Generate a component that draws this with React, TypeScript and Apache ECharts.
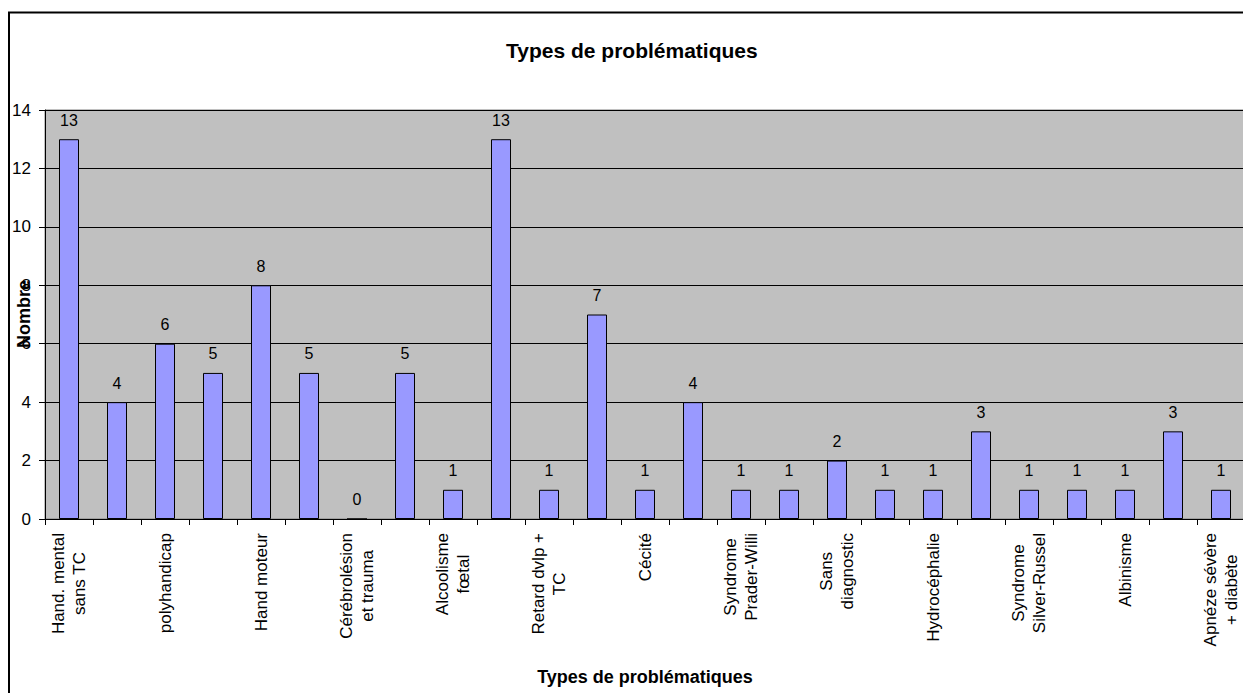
import React, { useEffect, useRef } from "react";
import * as echarts from "echarts";

const categories: string[] = [
  "Hand. mental\nsans TC", "", "polyhandicap", "", "Hand moteur", "",
  "Cérébrolésion\net trauma", "", "Alcoolisme\nfœtal", "", "Retard dvlp +\nTC", "",
  "Cécité", "", "Syndrome\nPrader-Willi", "", "Sans\ndiagnostic", "",
  "Hydrocéphalie", "", "Syndrome\nSilver-Russel", "", "Albinisme", "",
  "Apnéze sévère\n+ diabète",
];
const values: number[] = [13, 4, 6, 5, 8, 5, 0, 5, 1, 13, 1, 7, 1, 4, 1, 1, 2, 1, 1, 3, 1, 1, 1, 3, 1];
const titleText = "Types de problématiques";
const xAxisName = "Types de problématiques";
const yAxisName = "Nombre";

const FONT = "'Liberation Sans', Arial, sans-serif";

export default function App() {
  const ref = useRef<HTMLDivElement>(null);
  useEffect(() => {
    if (!ref.current) return;
    const chart = echarts.init(ref.current, undefined, { renderer: "svg" });
    chart.setOption({
      animation: false,
      backgroundColor: "#ffffff",
      textStyle: { fontFamily: FONT, color: "#000" },
      title: {
        text: titleText,
        left: 501,
        top: 35,
        textStyle: { fontFamily: FONT, fontWeight: "bold", fontSize: 21, color: "#000" },
      },
      graphic: [
        {
          type: "rect",
          shape: { x: 9, y: 12.5, width: 1300, height: 720 },
          style: { fill: "none", stroke: "#000", lineWidth: 2 },
          silent: true,
          z: 100,
        },
        {
          type: "text",
          x: 24,
          y: 314,
          rotation: Math.PI / 2,
          style: {
            text: yAxisName,
            fontFamily: FONT,
            fontWeight: "bold",
            fontSize: 18,
            fill: "#000",
            align: "center",
            verticalAlign: "middle",
          },
          z: 50,
        },
      ],
      grid: {
        left: 45,
        top: 110,
        width: 1200,
        height: 409,
        show: true,
        backgroundColor: "#C0C0C0",
        borderColor: "#808080",
        borderWidth: 1,
        containLabel: false,
        outerBoundsMode: "none",
      },
      xAxis: {
        type: "category",
        data: categories,
        name: xAxisName,
        nameLocation: "middle",
        nameGap: 149,
        nameTextStyle: { fontFamily: FONT, fontWeight: "bold", fontSize: 18, color: "#000" },
        axisLine: { show: true, lineStyle: { color: "#000", width: 1 } },
        axisTick: { show: true, interval: 0, length: 6, lineStyle: { color: "#000" } },
        axisLabel: {
          interval: 0,
          rotate: 90,
          margin: 14,
          color: "#000",
          fontFamily: FONT,
          fontSize: 17,
          formatter: (v: string) =>
            v
              .split("\n")
              .map((l) => `{c|${l}}`)
              .join("\n"),
          rich: {
            c: { align: "center", fontFamily: FONT, fontSize: 17, lineHeight: 21, color: "#000" },
          },
        },
        splitLine: { show: false },
      },
      yAxis: {
        type: "value",
        min: 0,
        max: 14,
        interval: 2,
        axisLine: { show: true, lineStyle: { color: "#000", width: 1 } },
        axisTick: { show: true, length: 6, inside: false, lineStyle: { color: "#000" } },
        axisLabel: { color: "#000", fontFamily: FONT, fontSize: 17, margin: 14 },
        splitLine: { show: true, lineStyle: { color: "#000", width: 1 } },
      },
      series: [
        {
          type: "bar",
          data: values,
          barWidth: 20,
          itemStyle: { color: "#9999FF", borderColor: "#000", borderWidth: 1 },
          label: {
            show: true,
            position: "top",
            distance: 11,
            color: "#000",
            fontFamily: FONT,
            fontSize: 16,
          },
        },
      ],
    });
    return () => chart.dispose();
  }, []);
  return (
    <div
      ref={ref}
      style={{ position: "absolute", left: 0, top: 0, width: 1243, height: 693 }}
    />
  );
}
